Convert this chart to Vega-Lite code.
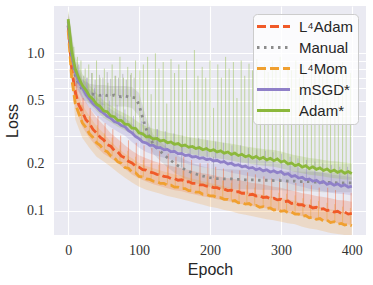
{
"$schema": "https://vega.github.io/schema/vega-lite/v6.json",
"width": 312, "height": 229,
"autosize": {"type": "none"},
"padding": {"left": 54, "top": 6, "right": 7, "bottom": 50},
"background": "white",
"config": {
  "view": {"fill": "#eaeaf2", "stroke": null},
  "axis": {"grid": true, "gridColor": "white", "gridWidth": 1.1, "ticks": false, "domain": false,
           "labelFont": "Liberation Serif", "labelFontSize": 14, "labelColor": "#333333",
           "titleFont": "Liberation Sans", "titleFontSize": 16, "titleFontWeight": "normal", "titleColor": "#262626"},
  "legend": {"symbolType": "M-3,0H3", "symbolSize": 121, "symbolStrokeWidth": 3, "symbolOffset": 8, "labelFont": "Liberation Sans",
             "labelFontSize": 15, "labelColor": "#262626", "fillColor": "rgba(255,255,255,0.8)", "strokeColor": "#cccccc",
             "cornerRadius": 4, "padding": 5, "rowPadding": 5, "labelOffset": 18}
},
"datasets": {
"lines": [
{"method":"L⁴Adam","epoch":0,"loss":1.5},{"method":"L⁴Adam","epoch":5,"loss":0.79},{"method":"L⁴Adam","epoch":10,"loss":0.565},{"method":"L⁴Adam","epoch":15,"loss":0.47},{"method":"L⁴Adam","epoch":20,"loss":0.425},{"method":"L⁴Adam","epoch":25,"loss":0.378},{"method":"L⁴Adam","epoch":30,"loss":0.358},{"method":"L⁴Adam","epoch":35,"loss":0.328},{"method":"L⁴Adam","epoch":40,"loss":0.312},{"method":"L⁴Adam","epoch":45,"loss":0.293},{"method":"L⁴Adam","epoch":50,"loss":0.282},{"method":"L⁴Adam","epoch":55,"loss":0.263},{"method":"L⁴Adam","epoch":60,"loss":0.257},{"method":"L⁴Adam","epoch":65,"loss":0.241},{"method":"L⁴Adam","epoch":70,"loss":0.236},{"method":"L⁴Adam","epoch":75,"loss":0.222},{"method":"L⁴Adam","epoch":80,"loss":0.217},{"method":"L⁴Adam","epoch":85,"loss":0.206},{"method":"L⁴Adam","epoch":90,"loss":0.201},{"method":"L⁴Adam","epoch":95,"loss":0.192},{"method":"L⁴Adam","epoch":100,"loss":0.189},{"method":"L⁴Adam","epoch":105,"loss":0.182},{"method":"L⁴Adam","epoch":110,"loss":0.181},{"method":"L⁴Adam","epoch":115,"loss":0.176},{"method":"L⁴Adam","epoch":120,"loss":0.174},{"method":"L⁴Adam","epoch":125,"loss":0.17},{"method":"L⁴Adam","epoch":130,"loss":0.169},{"method":"L⁴Adam","epoch":135,"loss":0.165},{"method":"L⁴Adam","epoch":140,"loss":0.164},{"method":"L⁴Adam","epoch":145,"loss":0.16},{"method":"L⁴Adam","epoch":150,"loss":0.16},{"method":"L⁴Adam","epoch":155,"loss":0.156},{"method":"L⁴Adam","epoch":160,"loss":0.157},{"method":"L⁴Adam","epoch":165,"loss":0.152},{"method":"L⁴Adam","epoch":170,"loss":0.153},{"method":"L⁴Adam","epoch":175,"loss":0.149},{"method":"L⁴Adam","epoch":180,"loss":0.149},{"method":"L⁴Adam","epoch":185,"loss":0.146},{"method":"L⁴Adam","epoch":190,"loss":0.146},{"method":"L⁴Adam","epoch":195,"loss":0.143},{"method":"L⁴Adam","epoch":200,"loss":0.143},{"method":"L⁴Adam","epoch":205,"loss":0.14},{"method":"L⁴Adam","epoch":210,"loss":0.14},{"method":"L⁴Adam","epoch":215,"loss":0.137},{"method":"L⁴Adam","epoch":220,"loss":0.137},{"method":"L⁴Adam","epoch":225,"loss":0.134},{"method":"L⁴Adam","epoch":230,"loss":0.135},{"method":"L⁴Adam","epoch":235,"loss":0.131},{"method":"L⁴Adam","epoch":240,"loss":0.132},{"method":"L⁴Adam","epoch":245,"loss":0.129},{"method":"L⁴Adam","epoch":250,"loss":0.129},{"method":"L⁴Adam","epoch":255,"loss":0.126},{"method":"L⁴Adam","epoch":260,"loss":0.127},{"method":"L⁴Adam","epoch":265,"loss":0.124},{"method":"L⁴Adam","epoch":270,"loss":0.125},{"method":"L⁴Adam","epoch":275,"loss":0.121},{"method":"L⁴Adam","epoch":280,"loss":0.122},{"method":"L⁴Adam","epoch":285,"loss":0.119},{"method":"L⁴Adam","epoch":290,"loss":0.12},{"method":"L⁴Adam","epoch":295,"loss":0.117},{"method":"L⁴Adam","epoch":300,"loss":0.118},{"method":"L⁴Adam","epoch":305,"loss":0.114},{"method":"L⁴Adam","epoch":310,"loss":0.115},{"method":"L⁴Adam","epoch":315,"loss":0.111},{"method":"L⁴Adam","epoch":320,"loss":0.112},{"method":"L⁴Adam","epoch":325,"loss":0.109},{"method":"L⁴Adam","epoch":330,"loss":0.109},{"method":"L⁴Adam","epoch":335,"loss":0.106},{"method":"L⁴Adam","epoch":340,"loss":0.107},{"method":"L⁴Adam","epoch":345,"loss":0.104},{"method":"L⁴Adam","epoch":350,"loss":0.105},{"method":"L⁴Adam","epoch":355,"loss":0.102},{"method":"L⁴Adam","epoch":360,"loss":0.103},{"method":"L⁴Adam","epoch":365,"loss":0.1},{"method":"L⁴Adam","epoch":370,"loss":0.101},{"method":"L⁴Adam","epoch":375,"loss":0.098},{"method":"L⁴Adam","epoch":380,"loss":0.099},{"method":"L⁴Adam","epoch":385,"loss":0.096},{"method":"L⁴Adam","epoch":390,"loss":0.098},{"method":"L⁴Adam","epoch":395,"loss":0.095},{"method":"L⁴Adam","epoch":400,"loss":0.096},
{"method":"Manual","epoch":0,"loss":1.5},{"method":"Manual","epoch":5,"loss":0.9},{"method":"Manual","epoch":10,"loss":0.72},{"method":"Manual","epoch":15,"loss":0.63},{"method":"Manual","epoch":20,"loss":0.59},{"method":"Manual","epoch":25,"loss":0.565},{"method":"Manual","epoch":30,"loss":0.555},{"method":"Manual","epoch":35,"loss":0.55},{"method":"Manual","epoch":40,"loss":0.543},{"method":"Manual","epoch":45,"loss":0.54},{"method":"Manual","epoch":50,"loss":0.547},{"method":"Manual","epoch":55,"loss":0.538},{"method":"Manual","epoch":60,"loss":0.535},{"method":"Manual","epoch":65,"loss":0.543},{"method":"Manual","epoch":70,"loss":0.533},{"method":"Manual","epoch":75,"loss":0.53},{"method":"Manual","epoch":80,"loss":0.537},{"method":"Manual","epoch":85,"loss":0.528},{"method":"Manual","epoch":90,"loss":0.525},{"method":"Manual","epoch":95,"loss":0.52},{"method":"Manual","epoch":100,"loss":0.47},{"method":"Manual","epoch":105,"loss":0.39},{"method":"Manual","epoch":110,"loss":0.33},{"method":"Manual","epoch":115,"loss":0.29},{"method":"Manual","epoch":120,"loss":0.265},{"method":"Manual","epoch":125,"loss":0.25},{"method":"Manual","epoch":130,"loss":0.238},{"method":"Manual","epoch":135,"loss":0.227},{"method":"Manual","epoch":140,"loss":0.217},{"method":"Manual","epoch":145,"loss":0.208},{"method":"Manual","epoch":150,"loss":0.2},{"method":"Manual","epoch":155,"loss":0.193},{"method":"Manual","epoch":160,"loss":0.188},{"method":"Manual","epoch":165,"loss":0.182},{"method":"Manual","epoch":170,"loss":0.178},{"method":"Manual","epoch":175,"loss":0.174},{"method":"Manual","epoch":180,"loss":0.171},{"method":"Manual","epoch":185,"loss":0.168},{"method":"Manual","epoch":190,"loss":0.166},{"method":"Manual","epoch":195,"loss":0.164},{"method":"Manual","epoch":200,"loss":0.162},{"method":"Manual","epoch":205,"loss":0.161},{"method":"Manual","epoch":210,"loss":0.16},{"method":"Manual","epoch":215,"loss":0.16},{"method":"Manual","epoch":220,"loss":0.159},{"method":"Manual","epoch":225,"loss":0.159},{"method":"Manual","epoch":230,"loss":0.159},{"method":"Manual","epoch":235,"loss":0.158},{"method":"Manual","epoch":240,"loss":0.158},{"method":"Manual","epoch":245,"loss":0.158},{"method":"Manual","epoch":250,"loss":0.157},{"method":"Manual","epoch":255,"loss":0.157},{"method":"Manual","epoch":260,"loss":0.157},{"method":"Manual","epoch":265,"loss":0.157},{"method":"Manual","epoch":270,"loss":0.156},{"method":"Manual","epoch":275,"loss":0.156},{"method":"Manual","epoch":280,"loss":0.156},{"method":"Manual","epoch":285,"loss":0.156},{"method":"Manual","epoch":290,"loss":0.155},{"method":"Manual","epoch":295,"loss":0.155},{"method":"Manual","epoch":300,"loss":0.155},{"method":"Manual","epoch":305,"loss":0.155},{"method":"Manual","epoch":310,"loss":0.154},{"method":"Manual","epoch":315,"loss":0.154},{"method":"Manual","epoch":320,"loss":0.154},{"method":"Manual","epoch":325,"loss":0.153},{"method":"Manual","epoch":330,"loss":0.153},{"method":"Manual","epoch":335,"loss":0.153},{"method":"Manual","epoch":340,"loss":0.153},{"method":"Manual","epoch":345,"loss":0.152},{"method":"Manual","epoch":350,"loss":0.152},{"method":"Manual","epoch":355,"loss":0.152},{"method":"Manual","epoch":360,"loss":0.151},{"method":"Manual","epoch":365,"loss":0.151},{"method":"Manual","epoch":370,"loss":0.151},{"method":"Manual","epoch":375,"loss":0.151},{"method":"Manual","epoch":380,"loss":0.15},{"method":"Manual","epoch":385,"loss":0.15},{"method":"Manual","epoch":390,"loss":0.15},{"method":"Manual","epoch":395,"loss":0.15},{"method":"Manual","epoch":400,"loss":0.15},
{"method":"L⁴Mom","epoch":0,"loss":1.4},{"method":"L⁴Mom","epoch":5,"loss":0.69},{"method":"L⁴Mom","epoch":10,"loss":0.48},{"method":"L⁴Mom","epoch":15,"loss":0.415},{"method":"L⁴Mom","epoch":20,"loss":0.362},{"method":"L⁴Mom","epoch":25,"loss":0.338},{"method":"L⁴Mom","epoch":30,"loss":0.308},{"method":"L⁴Mom","epoch":35,"loss":0.292},{"method":"L⁴Mom","epoch":40,"loss":0.27},{"method":"L⁴Mom","epoch":45,"loss":0.26},{"method":"L⁴Mom","epoch":50,"loss":0.243},{"method":"L⁴Mom","epoch":55,"loss":0.237},{"method":"L⁴Mom","epoch":60,"loss":0.223},{"method":"L⁴Mom","epoch":65,"loss":0.217},{"method":"L⁴Mom","epoch":70,"loss":0.204},{"method":"L⁴Mom","epoch":75,"loss":0.2},{"method":"L⁴Mom","epoch":80,"loss":0.188},{"method":"L⁴Mom","epoch":85,"loss":0.186},{"method":"L⁴Mom","epoch":90,"loss":0.176},{"method":"L⁴Mom","epoch":95,"loss":0.174},{"method":"L⁴Mom","epoch":100,"loss":0.165},{"method":"L⁴Mom","epoch":105,"loss":0.164},{"method":"L⁴Mom","epoch":110,"loss":0.159},{"method":"L⁴Mom","epoch":115,"loss":0.158},{"method":"L⁴Mom","epoch":120,"loss":0.154},{"method":"L⁴Mom","epoch":125,"loss":0.153},{"method":"L⁴Mom","epoch":130,"loss":0.149},{"method":"L⁴Mom","epoch":135,"loss":0.149},{"method":"L⁴Mom","epoch":140,"loss":0.145},{"method":"L⁴Mom","epoch":145,"loss":0.145},{"method":"L⁴Mom","epoch":150,"loss":0.141},{"method":"L⁴Mom","epoch":155,"loss":0.141},{"method":"L⁴Mom","epoch":160,"loss":0.138},{"method":"L⁴Mom","epoch":165,"loss":0.138},{"method":"L⁴Mom","epoch":170,"loss":0.134},{"method":"L⁴Mom","epoch":175,"loss":0.134},{"method":"L⁴Mom","epoch":180,"loss":0.131},{"method":"L⁴Mom","epoch":185,"loss":0.131},{"method":"L⁴Mom","epoch":190,"loss":0.127},{"method":"L⁴Mom","epoch":195,"loss":0.127},{"method":"L⁴Mom","epoch":200,"loss":0.124},{"method":"L⁴Mom","epoch":205,"loss":0.124},{"method":"L⁴Mom","epoch":210,"loss":0.121},{"method":"L⁴Mom","epoch":215,"loss":0.121},{"method":"L⁴Mom","epoch":220,"loss":0.118},{"method":"L⁴Mom","epoch":225,"loss":0.118},{"method":"L⁴Mom","epoch":230,"loss":0.115},{"method":"L⁴Mom","epoch":235,"loss":0.116},{"method":"L⁴Mom","epoch":240,"loss":0.112},{"method":"L⁴Mom","epoch":245,"loss":0.113},{"method":"L⁴Mom","epoch":250,"loss":0.11},{"method":"L⁴Mom","epoch":255,"loss":0.111},{"method":"L⁴Mom","epoch":260,"loss":0.107},{"method":"L⁴Mom","epoch":265,"loss":0.108},{"method":"L⁴Mom","epoch":270,"loss":0.105},{"method":"L⁴Mom","epoch":275,"loss":0.106},{"method":"L⁴Mom","epoch":280,"loss":0.103},{"method":"L⁴Mom","epoch":285,"loss":0.104},{"method":"L⁴Mom","epoch":290,"loss":0.101},{"method":"L⁴Mom","epoch":295,"loss":0.102},{"method":"L⁴Mom","epoch":300,"loss":0.099},{"method":"L⁴Mom","epoch":305,"loss":0.1},{"method":"L⁴Mom","epoch":310,"loss":0.097},{"method":"L⁴Mom","epoch":315,"loss":0.098},{"method":"L⁴Mom","epoch":320,"loss":0.095},{"method":"L⁴Mom","epoch":325,"loss":0.095},{"method":"L⁴Mom","epoch":330,"loss":0.092},{"method":"L⁴Mom","epoch":335,"loss":0.093},{"method":"L⁴Mom","epoch":340,"loss":0.09},{"method":"L⁴Mom","epoch":345,"loss":0.091},{"method":"L⁴Mom","epoch":350,"loss":0.088},{"method":"L⁴Mom","epoch":355,"loss":0.089},{"method":"L⁴Mom","epoch":360,"loss":0.086},{"method":"L⁴Mom","epoch":365,"loss":0.087},{"method":"L⁴Mom","epoch":370,"loss":0.084},{"method":"L⁴Mom","epoch":375,"loss":0.085},{"method":"L⁴Mom","epoch":380,"loss":0.082},{"method":"L⁴Mom","epoch":385,"loss":0.083},{"method":"L⁴Mom","epoch":390,"loss":0.081},{"method":"L⁴Mom","epoch":395,"loss":0.082},{"method":"L⁴Mom","epoch":400,"loss":0.08},
{"method":"mSGD*","epoch":0,"loss":1.6},{"method":"mSGD*","epoch":5,"loss":0.97},{"method":"mSGD*","epoch":10,"loss":0.765},{"method":"mSGD*","epoch":15,"loss":0.655},{"method":"mSGD*","epoch":20,"loss":0.605},{"method":"mSGD*","epoch":25,"loss":0.548},{"method":"mSGD*","epoch":30,"loss":0.513},{"method":"mSGD*","epoch":35,"loss":0.478},{"method":"mSGD*","epoch":40,"loss":0.457},{"method":"mSGD*","epoch":45,"loss":0.432},{"method":"mSGD*","epoch":50,"loss":0.417},{"method":"mSGD*","epoch":55,"loss":0.398},{"method":"mSGD*","epoch":60,"loss":0.387},{"method":"mSGD*","epoch":65,"loss":0.368},{"method":"mSGD*","epoch":70,"loss":0.362},{"method":"mSGD*","epoch":75,"loss":0.348},{"method":"mSGD*","epoch":80,"loss":0.342},{"method":"mSGD*","epoch":85,"loss":0.323},{"method":"mSGD*","epoch":90,"loss":0.312},{"method":"mSGD*","epoch":95,"loss":0.296},{"method":"mSGD*","epoch":100,"loss":0.287},{"method":"mSGD*","epoch":105,"loss":0.273},{"method":"mSGD*","epoch":110,"loss":0.27},{"method":"mSGD*","epoch":115,"loss":0.26},{"method":"mSGD*","epoch":120,"loss":0.26},{"method":"mSGD*","epoch":125,"loss":0.251},{"method":"mSGD*","epoch":130,"loss":0.252},{"method":"mSGD*","epoch":135,"loss":0.244},{"method":"mSGD*","epoch":140,"loss":0.245},{"method":"mSGD*","epoch":145,"loss":0.237},{"method":"mSGD*","epoch":150,"loss":0.238},{"method":"mSGD*","epoch":155,"loss":0.23},{"method":"mSGD*","epoch":160,"loss":0.231},{"method":"mSGD*","epoch":165,"loss":0.224},{"method":"mSGD*","epoch":170,"loss":0.226},{"method":"mSGD*","epoch":175,"loss":0.219},{"method":"mSGD*","epoch":180,"loss":0.221},{"method":"mSGD*","epoch":185,"loss":0.215},{"method":"mSGD*","epoch":190,"loss":0.217},{"method":"mSGD*","epoch":195,"loss":0.211},{"method":"mSGD*","epoch":200,"loss":0.213},{"method":"mSGD*","epoch":205,"loss":0.207},{"method":"mSGD*","epoch":210,"loss":0.209},{"method":"mSGD*","epoch":215,"loss":0.203},{"method":"mSGD*","epoch":220,"loss":0.205},{"method":"mSGD*","epoch":225,"loss":0.198},{"method":"mSGD*","epoch":230,"loss":0.2},{"method":"mSGD*","epoch":235,"loss":0.194},{"method":"mSGD*","epoch":240,"loss":0.196},{"method":"mSGD*","epoch":245,"loss":0.19},{"method":"mSGD*","epoch":250,"loss":0.192},{"method":"mSGD*","epoch":255,"loss":0.186},{"method":"mSGD*","epoch":260,"loss":0.188},{"method":"mSGD*","epoch":265,"loss":0.182},{"method":"mSGD*","epoch":270,"loss":0.185},{"method":"mSGD*","epoch":275,"loss":0.179},{"method":"mSGD*","epoch":280,"loss":0.182},{"method":"mSGD*","epoch":285,"loss":0.176},{"method":"mSGD*","epoch":290,"loss":0.179},{"method":"mSGD*","epoch":295,"loss":0.174},{"method":"mSGD*","epoch":300,"loss":0.177},{"method":"mSGD*","epoch":305,"loss":0.17},{"method":"mSGD*","epoch":310,"loss":0.172},{"method":"mSGD*","epoch":315,"loss":0.165},{"method":"mSGD*","epoch":320,"loss":0.167},{"method":"mSGD*","epoch":325,"loss":0.161},{"method":"mSGD*","epoch":330,"loss":0.163},{"method":"mSGD*","epoch":335,"loss":0.157},{"method":"mSGD*","epoch":340,"loss":0.159},{"method":"mSGD*","epoch":345,"loss":0.154},{"method":"mSGD*","epoch":350,"loss":0.156},{"method":"mSGD*","epoch":355,"loss":0.15},{"method":"mSGD*","epoch":360,"loss":0.153},{"method":"mSGD*","epoch":365,"loss":0.147},{"method":"mSGD*","epoch":370,"loss":0.15},{"method":"mSGD*","epoch":375,"loss":0.145},{"method":"mSGD*","epoch":380,"loss":0.148},{"method":"mSGD*","epoch":385,"loss":0.143},{"method":"mSGD*","epoch":390,"loss":0.146},{"method":"mSGD*","epoch":395,"loss":0.141},{"method":"mSGD*","epoch":400,"loss":0.143},
{"method":"Adam*","epoch":0,"loss":1.65},{"method":"Adam*","epoch":5,"loss":1.03},{"method":"Adam*","epoch":10,"loss":0.795},{"method":"Adam*","epoch":15,"loss":0.695},{"method":"Adam*","epoch":20,"loss":0.625},{"method":"Adam*","epoch":25,"loss":0.585},{"method":"Adam*","epoch":30,"loss":0.535},{"method":"Adam*","epoch":35,"loss":0.51},{"method":"Adam*","epoch":40,"loss":0.475},{"method":"Adam*","epoch":45,"loss":0.46},{"method":"Adam*","epoch":50,"loss":0.43},{"method":"Adam*","epoch":55,"loss":0.425},{"method":"Adam*","epoch":60,"loss":0.4},{"method":"Adam*","epoch":65,"loss":0.395},{"method":"Adam*","epoch":70,"loss":0.375},{"method":"Adam*","epoch":75,"loss":0.374},{"method":"Adam*","epoch":80,"loss":0.355},{"method":"Adam*","epoch":85,"loss":0.353},{"method":"Adam*","epoch":90,"loss":0.335},{"method":"Adam*","epoch":95,"loss":0.333},{"method":"Adam*","epoch":100,"loss":0.312},{"method":"Adam*","epoch":105,"loss":0.308},{"method":"Adam*","epoch":110,"loss":0.295},{"method":"Adam*","epoch":115,"loss":0.295},{"method":"Adam*","epoch":120,"loss":0.285},{"method":"Adam*","epoch":125,"loss":0.288},{"method":"Adam*","epoch":130,"loss":0.277},{"method":"Adam*","epoch":135,"loss":0.28},{"method":"Adam*","epoch":140,"loss":0.27},{"method":"Adam*","epoch":145,"loss":0.273},{"method":"Adam*","epoch":150,"loss":0.264},{"method":"Adam*","epoch":155,"loss":0.267},{"method":"Adam*","epoch":160,"loss":0.258},{"method":"Adam*","epoch":165,"loss":0.261},{"method":"Adam*","epoch":170,"loss":0.253},{"method":"Adam*","epoch":175,"loss":0.256},{"method":"Adam*","epoch":180,"loss":0.248},{"method":"Adam*","epoch":185,"loss":0.252},{"method":"Adam*","epoch":190,"loss":0.244},{"method":"Adam*","epoch":195,"loss":0.248},{"method":"Adam*","epoch":200,"loss":0.24},{"method":"Adam*","epoch":205,"loss":0.244},{"method":"Adam*","epoch":210,"loss":0.236},{"method":"Adam*","epoch":215,"loss":0.24},{"method":"Adam*","epoch":220,"loss":0.232},{"method":"Adam*","epoch":225,"loss":0.236},{"method":"Adam*","epoch":230,"loss":0.228},{"method":"Adam*","epoch":235,"loss":0.232},{"method":"Adam*","epoch":240,"loss":0.224},{"method":"Adam*","epoch":245,"loss":0.228},{"method":"Adam*","epoch":250,"loss":0.22},{"method":"Adam*","epoch":255,"loss":0.224},{"method":"Adam*","epoch":260,"loss":0.216},{"method":"Adam*","epoch":265,"loss":0.221},{"method":"Adam*","epoch":270,"loss":0.213},{"method":"Adam*","epoch":275,"loss":0.218},{"method":"Adam*","epoch":280,"loss":0.21},{"method":"Adam*","epoch":285,"loss":0.215},{"method":"Adam*","epoch":290,"loss":0.208},{"method":"Adam*","epoch":295,"loss":0.213},{"method":"Adam*","epoch":300,"loss":0.204},{"method":"Adam*","epoch":305,"loss":0.207},{"method":"Adam*","epoch":310,"loss":0.198},{"method":"Adam*","epoch":315,"loss":0.201},{"method":"Adam*","epoch":320,"loss":0.193},{"method":"Adam*","epoch":325,"loss":0.197},{"method":"Adam*","epoch":330,"loss":0.189},{"method":"Adam*","epoch":335,"loss":0.193},{"method":"Adam*","epoch":340,"loss":0.185},{"method":"Adam*","epoch":345,"loss":0.19},{"method":"Adam*","epoch":350,"loss":0.183},{"method":"Adam*","epoch":355,"loss":0.187},{"method":"Adam*","epoch":360,"loss":0.18},{"method":"Adam*","epoch":365,"loss":0.184},{"method":"Adam*","epoch":370,"loss":0.177},{"method":"Adam*","epoch":375,"loss":0.181},{"method":"Adam*","epoch":380,"loss":0.175},{"method":"Adam*","epoch":385,"loss":0.179},{"method":"Adam*","epoch":390,"loss":0.173},{"method":"Adam*","epoch":395,"loss":0.177},{"method":"Adam*","epoch":400,"loss":0.172}
],
"band": [
{"method":"L⁴Adam","epoch":0,"lo":1.3,"hi":1.8},{"method":"L⁴Adam","epoch":10,"lo":0.45,"hi":0.72},{"method":"L⁴Adam","epoch":20,"lo":0.34,"hi":0.54},{"method":"L⁴Adam","epoch":30,"lo":0.29,"hi":0.45},{"method":"L⁴Adam","epoch":40,"lo":0.255,"hi":0.39},{"method":"L⁴Adam","epoch":50,"lo":0.23,"hi":0.35},{"method":"L⁴Adam","epoch":60,"lo":0.215,"hi":0.31},{"method":"L⁴Adam","epoch":70,"lo":0.2,"hi":0.285},{"method":"L⁴Adam","epoch":80,"lo":0.184,"hi":0.26},{"method":"L⁴Adam","epoch":90,"lo":0.17,"hi":0.24},{"method":"L⁴Adam","epoch":100,"lo":0.16,"hi":0.225},{"method":"L⁴Adam","epoch":110,"lo":0.153,"hi":0.215},{"method":"L⁴Adam","epoch":120,"lo":0.147,"hi":0.207},{"method":"L⁴Adam","epoch":130,"lo":0.143,"hi":0.2},{"method":"L⁴Adam","epoch":140,"lo":0.139,"hi":0.195},{"method":"L⁴Adam","epoch":150,"lo":0.135,"hi":0.19},{"method":"L⁴Adam","epoch":160,"lo":0.133,"hi":0.186},{"method":"L⁴Adam","epoch":170,"lo":0.129,"hi":0.181},{"method":"L⁴Adam","epoch":180,"lo":0.126,"hi":0.177},{"method":"L⁴Adam","epoch":190,"lo":0.123,"hi":0.173},{"method":"L⁴Adam","epoch":200,"lo":0.121,"hi":0.17},{"method":"L⁴Adam","epoch":210,"lo":0.118,"hi":0.166},{"method":"L⁴Adam","epoch":220,"lo":0.116,"hi":0.162},{"method":"L⁴Adam","epoch":230,"lo":0.114,"hi":0.16},{"method":"L⁴Adam","epoch":240,"lo":0.111,"hi":0.157},{"method":"L⁴Adam","epoch":250,"lo":0.109,"hi":0.153},{"method":"L⁴Adam","epoch":260,"lo":0.107,"hi":0.15},{"method":"L⁴Adam","epoch":270,"lo":0.105,"hi":0.148},{"method":"L⁴Adam","epoch":280,"lo":0.103,"hi":0.145},{"method":"L⁴Adam","epoch":290,"lo":0.101,"hi":0.142},{"method":"L⁴Adam","epoch":300,"lo":0.099,"hi":0.14},{"method":"L⁴Adam","epoch":310,"lo":0.097,"hi":0.136},{"method":"L⁴Adam","epoch":320,"lo":0.094,"hi":0.133},{"method":"L⁴Adam","epoch":330,"lo":0.092,"hi":0.129},{"method":"L⁴Adam","epoch":340,"lo":0.09,"hi":0.127},{"method":"L⁴Adam","epoch":350,"lo":0.088,"hi":0.124},{"method":"L⁴Adam","epoch":360,"lo":0.087,"hi":0.122},{"method":"L⁴Adam","epoch":370,"lo":0.085,"hi":0.12},{"method":"L⁴Adam","epoch":380,"lo":0.083,"hi":0.117},{"method":"L⁴Adam","epoch":390,"lo":0.082,"hi":0.116},{"method":"L⁴Adam","epoch":400,"lo":0.081,"hi":0.114},
{"method":"Manual","epoch":0,"lo":1.3,"hi":1.75},{"method":"Manual","epoch":10,"lo":0.62,"hi":0.84},{"method":"Manual","epoch":20,"lo":0.51,"hi":0.68},{"method":"Manual","epoch":30,"lo":0.48,"hi":0.64},{"method":"Manual","epoch":40,"lo":0.47,"hi":0.63},{"method":"Manual","epoch":50,"lo":0.47,"hi":0.63},{"method":"Manual","epoch":60,"lo":0.46,"hi":0.62},{"method":"Manual","epoch":70,"lo":0.46,"hi":0.62},{"method":"Manual","epoch":80,"lo":0.46,"hi":0.62},{"method":"Manual","epoch":90,"lo":0.45,"hi":0.61},{"method":"Manual","epoch":100,"lo":0.4,"hi":0.56},{"method":"Manual","epoch":110,"lo":0.28,"hi":0.39},{"method":"Manual","epoch":120,"lo":0.23,"hi":0.305},{"method":"Manual","epoch":130,"lo":0.207,"hi":0.274},{"method":"Manual","epoch":140,"lo":0.189,"hi":0.25},{"method":"Manual","epoch":150,"lo":0.174,"hi":0.23},{"method":"Manual","epoch":160,"lo":0.164,"hi":0.216},{"method":"Manual","epoch":170,"lo":0.155,"hi":0.205},{"method":"Manual","epoch":180,"lo":0.149,"hi":0.197},{"method":"Manual","epoch":190,"lo":0.145,"hi":0.191},{"method":"Manual","epoch":200,"lo":0.141,"hi":0.186},{"method":"Manual","epoch":210,"lo":0.139,"hi":0.184},{"method":"Manual","epoch":220,"lo":0.138,"hi":0.183},{"method":"Manual","epoch":230,"lo":0.138,"hi":0.183},{"method":"Manual","epoch":240,"lo":0.137,"hi":0.182},{"method":"Manual","epoch":250,"lo":0.137,"hi":0.181},{"method":"Manual","epoch":260,"lo":0.137,"hi":0.181},{"method":"Manual","epoch":270,"lo":0.136,"hi":0.18},{"method":"Manual","epoch":280,"lo":0.136,"hi":0.18},{"method":"Manual","epoch":290,"lo":0.135,"hi":0.179},{"method":"Manual","epoch":300,"lo":0.135,"hi":0.179},{"method":"Manual","epoch":310,"lo":0.134,"hi":0.178},{"method":"Manual","epoch":320,"lo":0.134,"hi":0.178},{"method":"Manual","epoch":330,"lo":0.133,"hi":0.177},{"method":"Manual","epoch":340,"lo":0.133,"hi":0.177},{"method":"Manual","epoch":350,"lo":0.132,"hi":0.176},{"method":"Manual","epoch":360,"lo":0.131,"hi":0.175},{"method":"Manual","epoch":370,"lo":0.131,"hi":0.175},{"method":"Manual","epoch":380,"lo":0.131,"hi":0.174},{"method":"Manual","epoch":390,"lo":0.131,"hi":0.174},{"method":"Manual","epoch":400,"lo":0.131,"hi":0.174},
{"method":"L⁴Mom","epoch":0,"lo":1.2,"hi":1.7},{"method":"L⁴Mom","epoch":10,"lo":0.38,"hi":0.62},{"method":"L⁴Mom","epoch":20,"lo":0.29,"hi":0.47},{"method":"L⁴Mom","epoch":30,"lo":0.25,"hi":0.4},{"method":"L⁴Mom","epoch":40,"lo":0.22,"hi":0.345},{"method":"L⁴Mom","epoch":50,"lo":0.205,"hi":0.31},{"method":"L⁴Mom","epoch":60,"lo":0.19,"hi":0.275},{"method":"L⁴Mom","epoch":70,"lo":0.175,"hi":0.25},{"method":"L⁴Mom","epoch":80,"lo":0.162,"hi":0.23},{"method":"L⁴Mom","epoch":90,"lo":0.151,"hi":0.215},{"method":"L⁴Mom","epoch":100,"lo":0.142,"hi":0.2},{"method":"L⁴Mom","epoch":110,"lo":0.136,"hi":0.192},{"method":"L⁴Mom","epoch":120,"lo":0.132,"hi":0.186},{"method":"L⁴Mom","epoch":130,"lo":0.128,"hi":0.18},{"method":"L⁴Mom","epoch":140,"lo":0.124,"hi":0.175},{"method":"L⁴Mom","epoch":150,"lo":0.121,"hi":0.17},{"method":"L⁴Mom","epoch":160,"lo":0.118,"hi":0.167},{"method":"L⁴Mom","epoch":170,"lo":0.115,"hi":0.162},{"method":"L⁴Mom","epoch":180,"lo":0.112,"hi":0.158},{"method":"L⁴Mom","epoch":190,"lo":0.109,"hi":0.154},{"method":"L⁴Mom","epoch":200,"lo":0.106,"hi":0.15},{"method":"L⁴Mom","epoch":210,"lo":0.104,"hi":0.146},{"method":"L⁴Mom","epoch":220,"lo":0.101,"hi":0.143},{"method":"L⁴Mom","epoch":230,"lo":0.099,"hi":0.139},{"method":"L⁴Mom","epoch":240,"lo":0.096,"hi":0.136},{"method":"L⁴Mom","epoch":250,"lo":0.094,"hi":0.133},{"method":"L⁴Mom","epoch":260,"lo":0.092,"hi":0.13},{"method":"L⁴Mom","epoch":270,"lo":0.09,"hi":0.127},{"method":"L⁴Mom","epoch":280,"lo":0.088,"hi":0.125},{"method":"L⁴Mom","epoch":290,"lo":0.087,"hi":0.122},{"method":"L⁴Mom","epoch":300,"lo":0.085,"hi":0.12},{"method":"L⁴Mom","epoch":310,"lo":0.083,"hi":0.118},{"method":"L⁴Mom","epoch":320,"lo":0.082,"hi":0.115},{"method":"L⁴Mom","epoch":330,"lo":0.079,"hi":0.112},{"method":"L⁴Mom","epoch":340,"lo":0.077,"hi":0.109},{"method":"L⁴Mom","epoch":350,"lo":0.076,"hi":0.107},{"method":"L⁴Mom","epoch":360,"lo":0.074,"hi":0.104},{"method":"L⁴Mom","epoch":370,"lo":0.072,"hi":0.102},{"method":"L⁴Mom","epoch":380,"lo":0.071,"hi":0.1},{"method":"L⁴Mom","epoch":390,"lo":0.07,"hi":0.098},{"method":"L⁴Mom","epoch":400,"lo":0.069,"hi":0.096},
{"method":"mSGD*","epoch":0,"lo":1.4,"hi":1.85},{"method":"mSGD*","epoch":10,"lo":0.64,"hi":0.9},{"method":"mSGD*","epoch":20,"lo":0.52,"hi":0.7},{"method":"mSGD*","epoch":30,"lo":0.45,"hi":0.59},{"method":"mSGD*","epoch":40,"lo":0.4,"hi":0.525},{"method":"mSGD*","epoch":50,"lo":0.365,"hi":0.478},{"method":"mSGD*","epoch":60,"lo":0.339,"hi":0.443},{"method":"mSGD*","epoch":70,"lo":0.317,"hi":0.414},{"method":"mSGD*","epoch":80,"lo":0.299,"hi":0.391},{"method":"mSGD*","epoch":90,"lo":0.273,"hi":0.357},{"method":"mSGD*","epoch":100,"lo":0.251,"hi":0.328},{"method":"mSGD*","epoch":110,"lo":0.236,"hi":0.308},{"method":"mSGD*","epoch":120,"lo":0.227,"hi":0.297},{"method":"mSGD*","epoch":130,"lo":0.22,"hi":0.288},{"method":"mSGD*","epoch":140,"lo":0.214,"hi":0.279},{"method":"mSGD*","epoch":150,"lo":0.208,"hi":0.271},{"method":"mSGD*","epoch":160,"lo":0.202,"hi":0.263},{"method":"mSGD*","epoch":170,"lo":0.197,"hi":0.258},{"method":"mSGD*","epoch":180,"lo":0.193,"hi":0.252},{"method":"mSGD*","epoch":190,"lo":0.189,"hi":0.247},{"method":"mSGD*","epoch":200,"lo":0.186,"hi":0.243},{"method":"mSGD*","epoch":210,"lo":0.182,"hi":0.238},{"method":"mSGD*","epoch":220,"lo":0.179,"hi":0.233},{"method":"mSGD*","epoch":230,"lo":0.174,"hi":0.228},{"method":"mSGD*","epoch":240,"lo":0.171,"hi":0.223},{"method":"mSGD*","epoch":250,"lo":0.167,"hi":0.219},{"method":"mSGD*","epoch":260,"lo":0.164,"hi":0.214},{"method":"mSGD*","epoch":270,"lo":0.161,"hi":0.21},{"method":"mSGD*","epoch":280,"lo":0.158,"hi":0.207},{"method":"mSGD*","epoch":290,"lo":0.156,"hi":0.204},{"method":"mSGD*","epoch":300,"lo":0.154,"hi":0.201},{"method":"mSGD*","epoch":310,"lo":0.15,"hi":0.196},{"method":"mSGD*","epoch":320,"lo":0.145,"hi":0.19},{"method":"mSGD*","epoch":330,"lo":0.142,"hi":0.185},{"method":"mSGD*","epoch":340,"lo":0.138,"hi":0.181},{"method":"mSGD*","epoch":350,"lo":0.136,"hi":0.177},{"method":"mSGD*","epoch":360,"lo":0.133,"hi":0.174},{"method":"mSGD*","epoch":370,"lo":0.13,"hi":0.17},{"method":"mSGD*","epoch":380,"lo":0.128,"hi":0.168},{"method":"mSGD*","epoch":390,"lo":0.127,"hi":0.166},{"method":"mSGD*","epoch":400,"lo":0.125,"hi":0.163},
{"method":"Adam*","epoch":0,"lo":1.45,"hi":1.9},{"method":"Adam*","epoch":10,"lo":0.68,"hi":0.95},{"method":"Adam*","epoch":20,"lo":0.56,"hi":0.74},{"method":"Adam*","epoch":30,"lo":0.48,"hi":0.63},{"method":"Adam*","epoch":40,"lo":0.43,"hi":0.56},{"method":"Adam*","epoch":50,"lo":0.39,"hi":0.5},{"method":"Adam*","epoch":60,"lo":0.365,"hi":0.466},{"method":"Adam*","epoch":70,"lo":0.342,"hi":0.437},{"method":"Adam*","epoch":80,"lo":0.324,"hi":0.414},{"method":"Adam*","epoch":90,"lo":0.306,"hi":0.391},{"method":"Adam*","epoch":100,"lo":0.284,"hi":0.362},{"method":"Adam*","epoch":110,"lo":0.268,"hi":0.343},{"method":"Adam*","epoch":120,"lo":0.259,"hi":0.331},{"method":"Adam*","epoch":130,"lo":0.252,"hi":0.322},{"method":"Adam*","epoch":140,"lo":0.246,"hi":0.314},{"method":"Adam*","epoch":150,"lo":0.24,"hi":0.307},{"method":"Adam*","epoch":160,"lo":0.235,"hi":0.3},{"method":"Adam*","epoch":170,"lo":0.23,"hi":0.294},{"method":"Adam*","epoch":180,"lo":0.226,"hi":0.289},{"method":"Adam*","epoch":190,"lo":0.222,"hi":0.284},{"method":"Adam*","epoch":200,"lo":0.219,"hi":0.279},{"method":"Adam*","epoch":210,"lo":0.215,"hi":0.275},{"method":"Adam*","epoch":220,"lo":0.212,"hi":0.27},{"method":"Adam*","epoch":230,"lo":0.208,"hi":0.266},{"method":"Adam*","epoch":240,"lo":0.204,"hi":0.261},{"method":"Adam*","epoch":250,"lo":0.201,"hi":0.256},{"method":"Adam*","epoch":260,"lo":0.197,"hi":0.252},{"method":"Adam*","epoch":270,"lo":0.194,"hi":0.248},{"method":"Adam*","epoch":280,"lo":0.192,"hi":0.245},{"method":"Adam*","epoch":290,"lo":0.19,"hi":0.243},{"method":"Adam*","epoch":300,"lo":0.186,"hi":0.238},{"method":"Adam*","epoch":310,"lo":0.181,"hi":0.231},{"method":"Adam*","epoch":320,"lo":0.176,"hi":0.225},{"method":"Adam*","epoch":330,"lo":0.173,"hi":0.221},{"method":"Adam*","epoch":340,"lo":0.169,"hi":0.216},{"method":"Adam*","epoch":350,"lo":0.167,"hi":0.214},{"method":"Adam*","epoch":360,"lo":0.165,"hi":0.21},{"method":"Adam*","epoch":370,"lo":0.162,"hi":0.207},{"method":"Adam*","epoch":380,"lo":0.16,"hi":0.205},{"method":"Adam*","epoch":390,"lo":0.158,"hi":0.202},{"method":"Adam*","epoch":400,"lo":0.157,"hi":0.2}
],
"spk": [
{"method":"L⁴Adam","epoch":12,"bot":0.52,"top":0.65},{"method":"L⁴Adam","epoch":21,"bot":0.41,"top":0.52},{"method":"L⁴Adam","epoch":31,"bot":0.35,"top":0.45},{"method":"L⁴Adam","epoch":42,"bot":0.3,"top":0.4},{"method":"L⁴Adam","epoch":52,"bot":0.275,"top":0.36},{"method":"L⁴Adam","epoch":63,"bot":0.248,"top":0.33},{"method":"L⁴Adam","epoch":74,"bot":0.226,"top":0.3},{"method":"L⁴Adam","epoch":85,"bot":0.208,"top":0.28},{"method":"L⁴Adam","epoch":96,"bot":0.193,"top":0.27},{"method":"L⁴Adam","epoch":107,"bot":0.182,"top":0.26},{"method":"L⁴Adam","epoch":118,"bot":0.175,"top":0.25},{"method":"L⁴Adam","epoch":129,"bot":0.168,"top":0.24},{"method":"L⁴Adam","epoch":141,"bot":0.163,"top":0.23},{"method":"L⁴Adam","epoch":152,"bot":0.158,"top":0.22},{"method":"L⁴Adam","epoch":163,"bot":0.154,"top":0.22},{"method":"L⁴Adam","epoch":174,"bot":0.15,"top":0.21},{"method":"L⁴Adam","epoch":186,"bot":0.147,"top":0.2},{"method":"L⁴Adam","epoch":197,"bot":0.143,"top":0.2},{"method":"L⁴Adam","epoch":208,"bot":0.14,"top":0.19},{"method":"L⁴Adam","epoch":219,"bot":0.136,"top":0.185},{"method":"L⁴Adam","epoch":231,"bot":0.133,"top":0.18},{"method":"L⁴Adam","epoch":242,"bot":0.13,"top":0.18},{"method":"L⁴Adam","epoch":253,"bot":0.127,"top":0.175},{"method":"L⁴Adam","epoch":264,"bot":0.125,"top":0.17},{"method":"L⁴Adam","epoch":276,"bot":0.122,"top":0.165},{"method":"L⁴Adam","epoch":287,"bot":0.12,"top":0.16},{"method":"L⁴Adam","epoch":298,"bot":0.117,"top":0.16},{"method":"L⁴Adam","epoch":309,"bot":0.114,"top":0.155},{"method":"L⁴Adam","epoch":321,"bot":0.111,"top":0.15},{"method":"L⁴Adam","epoch":332,"bot":0.108,"top":0.15},{"method":"L⁴Adam","epoch":343,"bot":0.105,"top":0.145},{"method":"L⁴Adam","epoch":354,"bot":0.103,"top":0.14},{"method":"L⁴Adam","epoch":366,"bot":0.101,"top":0.14},{"method":"L⁴Adam","epoch":377,"bot":0.099,"top":0.135},{"method":"L⁴Adam","epoch":388,"bot":0.097,"top":0.13},{"method":"L⁴Adam","epoch":399,"bot":0.095,"top":0.13},
{"method":"Manual","epoch":22,"bot":0.58,"top":0.72},{"method":"Manual","epoch":27,"bot":0.56,"top":0.7},{"method":"Manual","epoch":33,"bot":0.55,"top":0.75},{"method":"Manual","epoch":38,"bot":0.55,"top":0.68},{"method":"Manual","epoch":44,"bot":0.54,"top":0.73},{"method":"Manual","epoch":49,"bot":0.545,"top":0.7},{"method":"Manual","epoch":55,"bot":0.54,"top":0.76},{"method":"Manual","epoch":60,"bot":0.535,"top":0.69},{"method":"Manual","epoch":66,"bot":0.54,"top":0.72},{"method":"Manual","epoch":71,"bot":0.535,"top":0.7},{"method":"Manual","epoch":77,"bot":0.53,"top":0.74},{"method":"Manual","epoch":82,"bot":0.535,"top":0.68},{"method":"Manual","epoch":88,"bot":0.53,"top":0.73},{"method":"Manual","epoch":93,"bot":0.52,"top":0.7},{"method":"Manual","epoch":125,"bot":0.25,"top":0.33},{"method":"Manual","epoch":160,"bot":0.188,"top":0.26},{"method":"Manual","epoch":205,"bot":0.161,"top":0.22},
{"method":"L⁴Mom","epoch":9,"bot":0.5,"top":0.62},{"method":"L⁴Mom","epoch":19,"bot":0.37,"top":0.47},{"method":"L⁴Mom","epoch":30,"bot":0.31,"top":0.4},{"method":"L⁴Mom","epoch":41,"bot":0.27,"top":0.35},{"method":"L⁴Mom","epoch":51,"bot":0.243,"top":0.31},{"method":"L⁴Mom","epoch":62,"bot":0.222,"top":0.29},{"method":"L⁴Mom","epoch":73,"bot":0.2,"top":0.26},{"method":"L⁴Mom","epoch":84,"bot":0.185,"top":0.24},{"method":"L⁴Mom","epoch":95,"bot":0.172,"top":0.22},{"method":"L⁴Mom","epoch":106,"bot":0.163,"top":0.21},{"method":"L⁴Mom","epoch":117,"bot":0.156,"top":0.2},{"method":"L⁴Mom","epoch":128,"bot":0.151,"top":0.195},{"method":"L⁴Mom","epoch":140,"bot":0.146,"top":0.19},{"method":"L⁴Mom","epoch":151,"bot":0.142,"top":0.18},{"method":"L⁴Mom","epoch":162,"bot":0.138,"top":0.18},{"method":"L⁴Mom","epoch":173,"bot":0.134,"top":0.175},{"method":"L⁴Mom","epoch":185,"bot":0.13,"top":0.17},{"method":"L⁴Mom","epoch":196,"bot":0.127,"top":0.165},{"method":"L⁴Mom","epoch":207,"bot":0.123,"top":0.16},{"method":"L⁴Mom","epoch":218,"bot":0.12,"top":0.155},{"method":"L⁴Mom","epoch":230,"bot":0.116,"top":0.15},{"method":"L⁴Mom","epoch":241,"bot":0.113,"top":0.148},{"method":"L⁴Mom","epoch":252,"bot":0.11,"top":0.145},{"method":"L⁴Mom","epoch":263,"bot":0.108,"top":0.14},{"method":"L⁴Mom","epoch":275,"bot":0.105,"top":0.138},{"method":"L⁴Mom","epoch":286,"bot":0.103,"top":0.135},{"method":"L⁴Mom","epoch":297,"bot":0.101,"top":0.13},{"method":"L⁴Mom","epoch":308,"bot":0.098,"top":0.128},{"method":"L⁴Mom","epoch":320,"bot":0.096,"top":0.125},{"method":"L⁴Mom","epoch":331,"bot":0.093,"top":0.12},{"method":"L⁴Mom","epoch":342,"bot":0.091,"top":0.118},{"method":"L⁴Mom","epoch":353,"bot":0.089,"top":0.115},{"method":"L⁴Mom","epoch":365,"bot":0.086,"top":0.112},{"method":"L⁴Mom","epoch":376,"bot":0.084,"top":0.11},{"method":"L⁴Mom","epoch":387,"bot":0.082,"top":0.106},{"method":"L⁴Mom","epoch":398,"bot":0.08,"top":0.104},
{"method":"mSGD*","epoch":15,"bot":0.66,"top":0.85},{"method":"mSGD*","epoch":26,"bot":0.55,"top":0.7},{"method":"mSGD*","epoch":37,"bot":0.47,"top":0.6},{"method":"mSGD*","epoch":48,"bot":0.42,"top":0.55},{"method":"mSGD*","epoch":58,"bot":0.39,"top":0.5},{"method":"mSGD*","epoch":69,"bot":0.36,"top":0.47},{"method":"mSGD*","epoch":80,"bot":0.34,"top":0.44},{"method":"mSGD*","epoch":92,"bot":0.305,"top":0.4},{"method":"mSGD*","epoch":103,"bot":0.28,"top":0.37},{"method":"mSGD*","epoch":114,"bot":0.263,"top":0.34},{"method":"mSGD*","epoch":126,"bot":0.252,"top":0.33},{"method":"mSGD*","epoch":137,"bot":0.245,"top":0.32},{"method":"mSGD*","epoch":149,"bot":0.237,"top":0.31},{"method":"mSGD*","epoch":161,"bot":0.228,"top":0.3},{"method":"mSGD*","epoch":172,"bot":0.223,"top":0.29},{"method":"mSGD*","epoch":184,"bot":0.217,"top":0.29},{"method":"mSGD*","epoch":196,"bot":0.213,"top":0.28},{"method":"mSGD*","epoch":208,"bot":0.208,"top":0.275},{"method":"mSGD*","epoch":219,"bot":0.203,"top":0.27},{"method":"mSGD*","epoch":231,"bot":0.198,"top":0.26},{"method":"mSGD*","epoch":243,"bot":0.193,"top":0.26},{"method":"mSGD*","epoch":254,"bot":0.188,"top":0.25},{"method":"mSGD*","epoch":266,"bot":0.184,"top":0.245},{"method":"mSGD*","epoch":278,"bot":0.181,"top":0.24},{"method":"mSGD*","epoch":289,"bot":0.177,"top":0.235},{"method":"mSGD*","epoch":301,"bot":0.175,"top":0.23},{"method":"mSGD*","epoch":313,"bot":0.168,"top":0.22},{"method":"mSGD*","epoch":324,"bot":0.163,"top":0.215},{"method":"mSGD*","epoch":336,"bot":0.159,"top":0.21},{"method":"mSGD*","epoch":348,"bot":0.155,"top":0.205},{"method":"mSGD*","epoch":359,"bot":0.151,"top":0.2},{"method":"mSGD*","epoch":371,"bot":0.148,"top":0.195},{"method":"mSGD*","epoch":383,"bot":0.146,"top":0.19},{"method":"mSGD*","epoch":394,"bot":0.143,"top":0.19},
{"method":"Adam*","epoch":8,"bot":0.85,"top":1.1},{"method":"Adam*","epoch":13,"bot":0.72,"top":0.95},{"method":"Adam*","epoch":18,"bot":0.66,"top":0.9},{"method":"Adam*","epoch":24,"bot":0.6,"top":0.8},{"method":"Adam*","epoch":29,"bot":0.55,"top":0.85},{"method":"Adam*","epoch":34,"bot":0.51,"top":0.75},{"method":"Adam*","epoch":40,"bot":0.48,"top":0.9},{"method":"Adam*","epoch":45,"bot":0.455,"top":0.7},{"method":"Adam*","epoch":51,"bot":0.43,"top":0.8},{"method":"Adam*","epoch":56,"bot":0.42,"top":0.65},{"method":"Adam*","epoch":62,"bot":0.4,"top":0.85},{"method":"Adam*","epoch":67,"bot":0.385,"top":0.72},{"method":"Adam*","epoch":73,"bot":0.375,"top":0.95},{"method":"Adam*","epoch":78,"bot":0.36,"top":0.7},{"method":"Adam*","epoch":84,"bot":0.35,"top":0.82},{"method":"Adam*","epoch":89,"bot":0.34,"top":0.75},{"method":"Adam*","epoch":95,"bot":0.33,"top":0.9},{"method":"Adam*","epoch":101,"bot":0.313,"top":0.78},{"method":"Adam*","epoch":106,"bot":0.303,"top":0.85},{"method":"Adam*","epoch":112,"bot":0.296,"top":0.95},{"method":"Adam*","epoch":117,"bot":0.29,"top":0.55},{"method":"Adam*","epoch":123,"bot":0.286,"top":1.0},{"method":"Adam*","epoch":128,"bot":0.282,"top":0.8},{"method":"Adam*","epoch":134,"bot":0.277,"top":0.88},{"method":"Adam*","epoch":139,"bot":0.273,"top":0.48},{"method":"Adam*","epoch":145,"bot":0.27,"top":0.92},{"method":"Adam*","epoch":150,"bot":0.267,"top":0.75},{"method":"Adam*","epoch":156,"bot":0.263,"top":0.85},{"method":"Adam*","epoch":161,"bot":0.26,"top":0.68},{"method":"Adam*","epoch":167,"bot":0.257,"top":0.9},{"method":"Adam*","epoch":172,"bot":0.255,"top":0.5},{"method":"Adam*","epoch":178,"bot":0.252,"top":1.05},{"method":"Adam*","epoch":183,"bot":0.25,"top":0.72},{"method":"Adam*","epoch":189,"bot":0.247,"top":0.82},{"method":"Adam*","epoch":194,"bot":0.245,"top":0.7},{"method":"Adam*","epoch":200,"bot":0.243,"top":0.9},{"method":"Adam*","epoch":205,"bot":0.241,"top":0.45},{"method":"Adam*","epoch":211,"bot":0.239,"top":0.85},{"method":"Adam*","epoch":216,"bot":0.237,"top":0.7},{"method":"Adam*","epoch":222,"bot":0.234,"top":0.95},{"method":"Adam*","epoch":227,"bot":0.232,"top":0.8},{"method":"Adam*","epoch":233,"bot":0.23,"top":0.88},{"method":"Adam*","epoch":238,"bot":0.228,"top":0.52},{"method":"Adam*","epoch":244,"bot":0.225,"top":0.9},{"method":"Adam*","epoch":249,"bot":0.223,"top":0.72},{"method":"Adam*","epoch":255,"bot":0.221,"top":0.86},{"method":"Adam*","epoch":260,"bot":0.219,"top":0.78},{"method":"Adam*","epoch":266,"bot":0.217,"top":0.92},{"method":"Adam*","epoch":271,"bot":0.216,"top":0.46},{"method":"Adam*","epoch":277,"bot":0.214,"top":0.85},{"method":"Adam*","epoch":282,"bot":0.213,"top":0.76},{"method":"Adam*","epoch":288,"bot":0.211,"top":0.9},{"method":"Adam*","epoch":293,"bot":0.21,"top":0.8},{"method":"Adam*","epoch":299,"bot":0.207,"top":0.95},{"method":"Adam*","epoch":304,"bot":0.204,"top":0.5},{"method":"Adam*","epoch":310,"bot":0.201,"top":0.88},{"method":"Adam*","epoch":315,"bot":0.198,"top":0.78},{"method":"Adam*","epoch":321,"bot":0.196,"top":0.9},{"method":"Adam*","epoch":326,"bot":0.194,"top":0.7},{"method":"Adam*","epoch":332,"bot":0.191,"top":0.85},{"method":"Adam*","epoch":337,"bot":0.189,"top":0.44},{"method":"Adam*","epoch":343,"bot":0.188,"top":0.92},{"method":"Adam*","epoch":348,"bot":0.186,"top":0.75},{"method":"Adam*","epoch":354,"bot":0.185,"top":0.86},{"method":"Adam*","epoch":359,"bot":0.183,"top":0.72},{"method":"Adam*","epoch":365,"bot":0.181,"top":0.9},{"method":"Adam*","epoch":370,"bot":0.18,"top":0.5},{"method":"Adam*","epoch":376,"bot":0.179,"top":0.85},{"method":"Adam*","epoch":381,"bot":0.178,"top":0.7},{"method":"Adam*","epoch":387,"bot":0.177,"top":0.88},{"method":"Adam*","epoch":392,"bot":0.176,"top":0.8},{"method":"Adam*","epoch":398,"bot":0.175,"top":0.75}
]
},
"layer": [
{
  "data": {"name": "band"},
  "mark": {"type": "area", "opacity": 0.22, "clip": true},
  "encoding": {
    "x": {"field": "epoch", "type": "quantitative", "scale": {"domain": [-20, 420], "nice": false, "zero": false},
          "axis": {"values": [0, 100, 200, 300, 400], "labelPadding": 8, "titlePadding": 4, "labelFont": "Liberation Serif"}, "title": "Epoch"},
    "y": {"field": "lo", "type": "quantitative", "scale": {"type": "log", "domain": [0.07, 2.0], "nice": false},
          "axis": {"values": [0.1, 0.2, 0.3, 0.4, 0.5, 0.6, 0.7, 0.8, 0.9, 1.0], "format": ".1f", "labelFont": "Liberation Serif",
                   "labelExpr": "indexof([0.1, 0.2, 0.5, 1], datum.value) >= 0 ? datum.label : ''",
                   "labelPadding": 10, "titlePadding": 6}, "title": "Loss"},
    "y2": {"field": "hi"},
    "fill": {"field": "method", "type": "nominal", "legend": null,
             "scale": {"domain": ["Adam*", "mSGD*", "L⁴Mom", "Manual", "L⁴Adam"],
                       "range": ["#8cb83c", "#8f80c8", "#f0a030", "#8c8c8c", "#f05a28"]}}
  }
},
{
  "data": {"name": "spk"},
  "mark": {"type": "rule", "opacity": 0.45, "strokeWidth": 1, "clip": true},
  "encoding": {
    "x": {"field": "epoch", "type": "quantitative", "title": "Epoch"},
    "y": {"field": "bot", "type": "quantitative", "title": "Loss"},
    "y2": {"field": "top"},
    "stroke": {"field": "method", "type": "nominal", "legend": null,
               "scale": {"domain": ["mSGD*", "Adam*", "Manual", "L⁴Adam", "L⁴Mom"],
                         "range": ["#8f80c8", "#8cb83c", "#8c8c8c", "#f05a28", "#f0a030"]}}
  }
},
{
  "data": {"name": "lines"},
  "mark": {"type": "line", "strokeWidth": 2.8, "clip": true},
  "encoding": {
    "x": {"field": "epoch", "type": "quantitative", "title": "Epoch"},
    "y": {"field": "loss", "type": "quantitative", "title": "Loss"},
    "color": {"field": "method", "type": "nominal", "title": null,
              "scale": {"domain": ["L⁴Adam", "Manual", "L⁴Mom", "mSGD*", "Adam*"],
                        "range": ["#f05a28", "#8c8c8c", "#f0a030", "#8f80c8", "#8cb83c"]},
              "legend": {"orient": "top-right", "offset": 8}},
    "strokeDash": {"field": "method", "type": "nominal", "title": null,
                   "scale": {"domain": ["L⁴Adam", "Manual", "L⁴Mom", "mSGD*", "Adam*"],
                             "range": [[9, 4], [2.5, 4.5], [9, 4], [1, 0], [1, 0]]},
                   "legend": {"orient": "top-right", "offset": 8}}
  }
}
]
}
